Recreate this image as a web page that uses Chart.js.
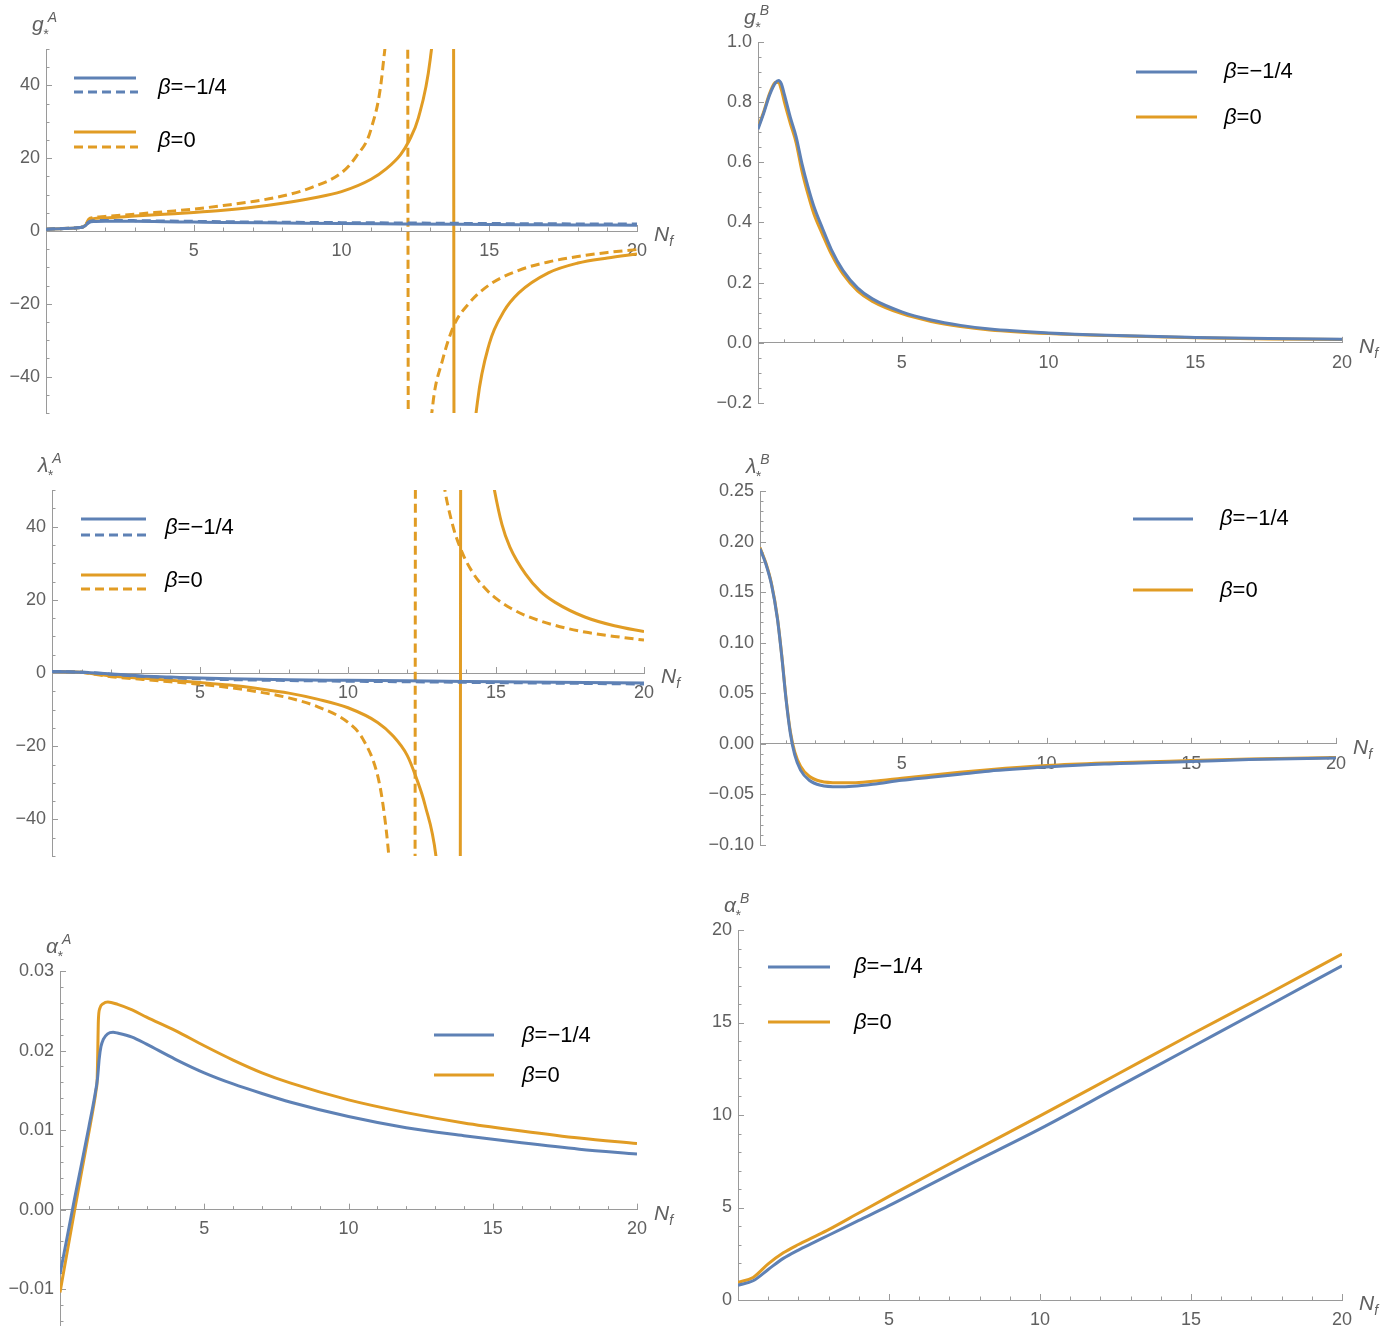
<!DOCTYPE html>
<html>
<head>
<meta charset="utf-8">
<script src="https://cdn.jsdelivr.net/npm/chart.js@4.4.0/dist/chart.umd.min.js"></script>
<style>
  html, body { margin: 0; padding: 0; background: #fff; overflow: hidden; }
  #pagina { position: relative; width: 1400px; height: 1329px; overflow: hidden; }
  .painel { position: absolute; }
</style>
</head>
<body>
<div id="pagina">
  <canvas class="painel" id="c1"></canvas>
  <canvas class="painel" id="c2"></canvas>
  <canvas class="painel" id="c3"></canvas>
  <canvas class="painel" id="c4"></canvas>
  <canvas class="painel" id="c5"></canvas>
  <canvas class="painel" id="c6"></canvas>
</div>
<script>
// ---------- g*^A ----------
const gA_xAzul = [0, 0.5, 1, 1.25, 1.35, 1.45, 1.6, 2, 3, 4, 5, 6, 8, 10, 12, 14, 16, 18, 20];
const gA_azulSolida = [0.5, 0.65, 0.85, 1.1, 1.6, 2.3, 2.6, 2.7, 2.65, 2.55, 2.45, 2.35, 2.2, 2.05, 1.95, 1.85, 1.75, 1.65, 1.6];
const gA_azulTracejada = [0.5, 0.65, 0.85, 1.1, 1.7, 2.5, 2.8, 2.9, 2.85, 2.75, 2.65, 2.55, 2.4, 2.3, 2.2, 2.1, 2.0, 1.95, 1.9];
const gA_xLaranjaSolida = [0, 0.5, 1, 1.25, 1.35, 1.45, 1.6, 2, 3, 4, 5, 6, 7, 8, 9, 10, 11, 11.5, 12, 12.3, 12.6, 13.0, 13.3, 13.55, 13.72, 13.88, 14.05, 14.3, 14.6, 15, 15.5, 16, 17, 18, 19, 20];
const gA_laranjaSolida = [0.5, 0.65, 0.85, 1.1, 1.7, 3.0, 3.4, 3.6, 4.1, 4.6, 5.1, 5.7, 6.5, 7.6, 9.0, 10.8, 14.2, 17, 21, 25, 31, 47, 75, 150, 450, -450, -150, -75, -47, -31, -22, -17, -11.5, -8.8, -7.4, -6.3];
const gA_xLaranjaTracejada = [0, 0.5, 1, 1.25, 1.35, 1.45, 1.6, 2, 3, 4, 5, 6, 7, 8, 9, 10, 10.5, 11, 11.4, 11.7, 11.95, 12.15, 12.35, 12.55, 12.8, 13.1, 13.4, 13.8, 14.3, 15, 16, 17, 18, 19, 20];
const gA_laranjaTracejada = [0.5, 0.65, 0.85, 1.1, 1.8, 3.3, 3.7, 4.0, 4.6, 5.3, 6.0, 7.0, 8.1, 9.6, 12.0, 16.0, 20.5, 28, 45, 80, 170, 420, -420, -140, -76, -47, -36, -26, -20, -14.8, -10.8, -8.5, -7.0, -5.9, -5.1];

// ---------- g*^B ----------
const gB_x = [0.1, 0.3, 0.5, 0.7, 0.8, 0.9, 1.0, 1.2, 1.4, 1.6, 1.8, 2.0, 2.3, 2.6, 3.0, 3.5, 4, 5, 6, 7, 8, 10, 12, 15, 17.5, 20];
const gB_azul = [0.71, 0.765, 0.825, 0.865, 0.872, 0.86, 0.825, 0.75, 0.685, 0.595, 0.52, 0.455, 0.38, 0.31, 0.24, 0.182, 0.146, 0.103, 0.076, 0.058, 0.046, 0.033, 0.025, 0.018, 0.014, 0.012];
const gB_laranja = [0.715, 0.77, 0.83, 0.866, 0.865, 0.84, 0.80, 0.73, 0.665, 0.57, 0.495, 0.43, 0.36, 0.295, 0.228, 0.172, 0.138, 0.097, 0.071, 0.054, 0.043, 0.031, 0.024, 0.017, 0.013, 0.011];

// ---------- lambda*^A ----------
const lA_xAzul = [0, 0.5, 1, 1.5, 2, 3, 4, 5, 6, 8, 10, 12, 14, 16, 18, 20];
const lA_azulSolida = [0.4, 0.35, 0.2, 0, -0.3, -0.8, -1.1, -1.4, -1.6, -1.85, -2.0, -2.15, -2.3, -2.45, -2.6, -2.75];
const lA_azulTracejada = [0.4, 0.35, 0.2, 0, -0.35, -0.9, -1.3, -1.6, -1.8, -2.05, -2.25, -2.4, -2.55, -2.7, -2.85, -3.0];
const lA_xLaranjaSolida = [0, 0.5, 1, 1.5, 2, 3, 4, 5, 6, 7, 8, 9, 10, 11, 11.5, 12, 12.3, 12.6, 13.0, 13.3, 13.55, 13.72, 13.88, 14.1, 14.4, 14.7, 14.9, 15.2, 15.47, 16, 16.5, 17, 18, 19, 20];
const lA_laranjaSolida = [0.4, 0.35, 0.2, -0.3, -0.8, -1.4, -2.0, -2.6, -3.3, -4.3, -5.5, -7.2, -9.5, -13.5, -17, -22.5, -28.5, -36, -52, -85, -170, -500, 500, 180, 91, 62, 52, 40.6, 34.4, 27, 22.3, 19.3, 15.3, 12.9, 11.3];
const lA_xLaranjaTracejada = [0, 0.5, 1, 1.5, 2, 3, 4, 5, 6, 7, 8, 9, 10, 10.5, 11, 11.2, 11.4, 11.7, 12.0, 12.18, 12.35, 12.5, 12.7, 12.95, 13.22, 13.5, 13.8, 14.2, 14.6, 15, 15.5, 16, 17, 18, 19, 20];
const lA_laranjaTracejada = [0.4, 0.35, 0.2, -0.4, -1.0, -1.7, -2.4, -3.1, -4.0, -5.2, -6.8, -9.3, -13.5, -18, -28, -37, -52, -90, -200, -600, 480, 196, 110, 72, 52.7, 41.5, 34, 27.6, 23.4, 20.4, 17.7, 15.7, 13, 11.2, 10, 9];

// ---------- lambda*^B ----------
const lB_x = [0.1, 0.3, 0.5, 0.7, 0.85, 1.0, 1.15, 1.3, 1.5, 1.8, 2.2, 2.8, 3.3, 4, 5, 6, 7, 8, 10, 12, 15, 17, 20];
const lB_azul = [0.193, 0.178, 0.157, 0.124, 0.087, 0.044, 0.010, -0.011, -0.026, -0.036, -0.041, -0.0425, -0.042, -0.040, -0.036, -0.033, -0.030, -0.027, -0.023, -0.020, -0.0175, -0.0155, -0.0140];
const lB_laranja = [0.194, 0.179, 0.158, 0.125, 0.088, 0.045, 0.012, -0.008, -0.022, -0.032, -0.037, -0.0385, -0.0385, -0.037, -0.034, -0.031, -0.028, -0.0255, -0.0215, -0.019, -0.0165, -0.015, -0.0135];

// ---------- alpha*^A ----------
const aA_xAzul = [0, 0.25, 0.5, 0.75, 1.0, 1.2, 1.3, 1.36, 1.42, 1.5, 1.65, 1.84, 2.0, 2.5, 3, 4, 5, 6, 7, 8, 10, 12, 14, 16, 18, 20];
const aA_azul = [-0.0081, -0.0034, 0.0013, 0.0058, 0.0104, 0.0142, 0.0165, 0.0190, 0.0205, 0.0214, 0.0221, 0.0223, 0.0222, 0.0217, 0.0208, 0.0189, 0.0172, 0.0158, 0.0146, 0.0135, 0.0117, 0.0103, 0.0093, 0.0084, 0.0076, 0.0070];
const aA_xLaranja = [0, 0.25, 0.5, 0.75, 1.0, 1.15, 1.25, 1.29, 1.31, 1.33, 1.38, 1.5, 1.66, 2.0, 2.5, 3, 4, 5, 6, 7, 8, 10, 12, 14, 16, 18, 20];
const aA_laranja = [-0.0104, -0.0053, -0.0002, 0.0048, 0.0097, 0.0127, 0.0150, 0.0165, 0.0200, 0.0238, 0.0253, 0.0259, 0.0261, 0.0258, 0.0251, 0.0242, 0.0225, 0.0206, 0.0188, 0.0172, 0.0159, 0.0138, 0.0122, 0.0109, 0.0099, 0.0090, 0.0083];

// ---------- alpha*^B ----------
const aB_x = [0, 0.5, 1, 1.5, 2, 2.5, 3, 4, 5, 7.5, 10, 12.5, 15, 17.5, 20];
const aB_azul = [0.8, 1.04, 1.65, 2.25, 2.7, 3.1, 3.5, 4.3, 5.1, 7.2, 9.25, 11.45, 13.65, 15.85, 18.07];
const aB_laranja = [0.95, 1.22, 1.95, 2.55, 3.0, 3.4, 3.8, 4.7, 5.6, 7.8, 9.95, 12.15, 14.35, 16.5, 18.7];

// ---------- marcas dos eixos ----------
const xTicks = [5, 10, 15, 20];
const xRotulos = ['5', '10', '15', '20'];
const ticksGrande = [-40, -20, 0, 20, 40];
const rotulosGrande = ['\u221240', '\u221220', '0', '20', '40'];
const gB_ticks = [-0.2, 0, 0.2, 0.4, 0.6, 0.8, 1.0];
const gB_rotulos = ['\u22120.2', '0.0', '0.2', '0.4', '0.6', '0.8', '1.0'];
const lB_ticks = [-0.10, -0.05, 0, 0.05, 0.10, 0.15, 0.20, 0.25];
const lB_rotulos = ['\u22120.10', '\u22120.05', '0.00', '0.05', '0.10', '0.15', '0.20', '0.25'];
const aA_ticks = [-0.01, 0, 0.01, 0.02, 0.03];
const aA_rotulos = ['\u22120.01', '0.00', '0.01', '0.02', '0.03'];
const aB_ticks = [0, 5, 10, 15, 20];
const aB_rotulos = ['0', '5', '10', '15', '20'];

const AZUL = '#5E81B5';
const LARANJA = '#E19C24';
const COR_EIXO = '#9a9a9a';
const COR_TEXTO = '#606060';
const FONTE = '"Liberation Sans", Arial, sans-serif';
const ESPESSURA = 3;

// margens do canvas em volta da área do gráfico
const ESQ = 80, TOPO = 48, DIR = 62, BAIXO = 34;

function serie(xs, ys) {
  return xs.map((x, i) => ({ x: x, y: ys[i] }));
}

function linha(label, xs, ys, cor, tracejada) {
  return {
    label: label,
    data: serie(xs, ys),
    borderColor: cor,
    backgroundColor: cor,
    borderWidth: ESPESSURA,
    borderDash: tracejada ? [9, 5] : [],
    pointRadius: 0,
    showLine: true,
    fill: false,
    cubicInterpolationMode: 'monotone'
  };
}

function desenharSimbolo(ctx, x, y, principal, sup, sub) {
  ctx.fillStyle = COR_TEXTO;
  ctx.textAlign = 'left';
  ctx.textBaseline = 'alphabetic';
  ctx.font = 'italic 21px ' + FONTE;
  ctx.fillText(principal, x, y);
  const w = ctx.measureText(principal).width;
  ctx.font = 'italic 14px ' + FONTE;
  if (sub) ctx.fillText(sub, x + w - 1, y + 8);
  if (sup) ctx.fillText(sup, x + w + 4, y - 9);
}

function desenharLegenda(ctx, itens) {
  itens.forEach(it => {
    ctx.save();
    ctx.strokeStyle = it.cor;
    ctx.lineWidth = ESPESSURA;
    ctx.beginPath();
    ctx.moveTo(it.x1, it.y1);
    ctx.lineTo(it.x2, it.y1);
    ctx.stroke();
    if (it.y2 !== undefined) {
      ctx.setLineDash([9, 5]);
      ctx.beginPath();
      ctx.moveTo(it.x1, it.y2);
      ctx.lineTo(it.x2 + 2, it.y2);
      ctx.stroke();
    }
    ctx.restore();
    ctx.fillStyle = '#000';
    ctx.textBaseline = 'middle';
    ctx.textAlign = 'left';
    ctx.font = 'italic 22px ' + FONTE;
    ctx.fillText('\u03B2', it.tx, it.ty);
    const w = ctx.measureText('\u03B2').width;
    ctx.font = '22px ' + FONTE;
    ctx.fillText('=' + it.valor, it.tx + w, it.ty);
  });
}

function criarPainel(p) {
  const canvas = document.getElementById(p.id);
  const left = p.area.left - ESQ;
  const top = p.area.top - TOPO;
  const width = p.area.right + DIR - left;
  const height = p.area.bottom + BAIXO - top;
  canvas.width = width;
  canvas.height = height;
  canvas.style.left = left + 'px';
  canvas.style.top = top + 'px';
  canvas.style.width = width + 'px';
  canvas.style.height = height + 'px';

  // converte coordenadas da página para o canvas
  const cx = v => v - left;
  const cy = v => v - top;

  const pluginEixos = {
    id: 'eixos_' + p.id,
    beforeDatasetsDraw(chart) {
      const ctx = chart.ctx;
      const sx = chart.scales.x, sy = chart.scales.y;
      const x0 = chart.chartArea.left;
      const y0 = sy.getPixelForValue(0);
      ctx.save();
      ctx.strokeStyle = COR_EIXO;
      ctx.lineWidth = 1;
      // marcas do eixo y, para dentro
      const iMin = Math.ceil(p.yMin / p.yMenor - 1e-6);
      const iMax = Math.floor(p.yMax / p.yMenor + 1e-6);
      for (let i = iMin; i <= iMax; i++) {
        const v = i * p.yMenor;
        const r = v / p.yMaior;
        const maior = Math.abs(r - Math.round(r)) < 1e-6;
        const py = Math.round(sy.getPixelForValue(v)) + 0.5;
        ctx.beginPath();
        ctx.moveTo(x0, py);
        ctx.lineTo(x0 + (maior ? 6 : 3.5), py);
        ctx.stroke();
      }
      // marcas do eixo x, para cima
      for (let i = Math.ceil(p.xMin); i <= p.xMax; i++) {
        if (i === 0) continue;
        const maior = i % 5 === 0;
        const px = Math.round(sx.getPixelForValue(i)) + 0.5;
        ctx.beginPath();
        ctx.moveTo(px, y0);
        ctx.lineTo(px, y0 - (maior ? 6 : 3.5));
        ctx.stroke();
      }
      ctx.restore();
    },
    afterDraw(chart) {
      const ctx = chart.ctx;
      const sy = chart.scales.y;
      const ca = chart.chartArea;
      const y0 = sy.getPixelForValue(0);
      ctx.save();
      // nome do eixo y
      desenharSimbolo(ctx, ca.left - 14, ca.top - 18, p.simbolo[0], p.simbolo[1], '*');
      // nome do eixo x
      ctx.fillStyle = COR_TEXTO;
      ctx.textBaseline = 'alphabetic';
      ctx.font = 'italic 21px ' + FONTE;
      ctx.fillText('N', ca.right + 17, y0 + 10);
      const w = ctx.measureText('N').width;
      ctx.font = 'italic 14px ' + FONTE;
      ctx.fillText('f', ca.right + 17 + w, y0 + 15);
      // legenda
      desenharLegenda(ctx, p.legenda.map(it => ({
        cor: it.cor,
        x1: cx(it.x1), x2: cx(it.x2),
        y1: cy(it.y1), y2: it.y2 === undefined ? undefined : cy(it.y2),
        tx: cx(it.tx), ty: cy(it.ty),
        valor: it.valor
      })));
      ctx.restore();
    }
  };

  return new Chart(canvas, {
    type: 'scatter',
    data: { datasets: p.datasets },
    options: {
      responsive: false,
      animation: false,
      events: [],
      layout: { padding: { left: 0, top: TOPO, right: DIR, bottom: BAIXO } },
      plugins: { legend: { display: false }, tooltip: { enabled: false } },
      scales: {
        x: {
          type: 'linear',
          min: p.xMin,
          max: p.xMax,
          position: { y: 0 },
          afterBuildTicks: s => { s.ticks = xTicks.map(v => ({ value: v })); },
          ticks: {
            autoSkip: false,
            maxRotation: 0,
            padding: 9,
            color: COR_TEXTO,
            font: { family: FONTE, size: 18 },
            callback: (v, i) => xRotulos[i]
          },
          grid: { drawOnChartArea: false, drawTicks: false, color: COR_EIXO },
          border: { display: true, color: COR_EIXO, width: 1 }
        },
        y: {
          type: 'linear',
          min: p.yMin,
          max: p.yMax,
          position: 'left',
          afterFit: s => { s.width = ESQ; },
          afterBuildTicks: s => { s.ticks = p.yTicks.map(v => ({ value: v })); },
          ticks: {
            autoSkip: false,
            padding: 6,
            color: COR_TEXTO,
            font: { family: FONTE, size: 18 },
            callback: (v, i) => p.yRotulos[i]
          },
          grid: { drawOnChartArea: false, drawTicks: false, color: COR_EIXO },
          border: { display: true, color: COR_EIXO, width: 1 }
        }
      }
    },
    plugins: [pluginEixos]
  });
}

const paineis = [
  {
    id: 'c1', area: { left: 46, top: 49, right: 637, bottom: 413 },
    xMin: 0, xMax: 20, yMin: -50, yMax: 50, yMaior: 20, yMenor: 5,
    yTicks: ticksGrande, yRotulos: rotulosGrande, simbolo: ['g', 'A'],
    datasets: [
      linha('\u03B2=-1/4', gA_xAzul, gA_azulSolida, AZUL, false),
      linha('\u03B2=-1/4', gA_xAzul, gA_azulTracejada, AZUL, true),
      linha('\u03B2=0', gA_xLaranjaSolida, gA_laranjaSolida, LARANJA, false),
      linha('\u03B2=0', gA_xLaranjaTracejada, gA_laranjaTracejada, LARANJA, true)
    ],
    legenda: [
      { cor: AZUL, x1: 74, x2: 136, y1: 78, y2: 92, tx: 158, ty: 88, valor: '\u22121/4' },
      { cor: LARANJA, x1: 74, x2: 136, y1: 132, y2: 147, tx: 158, ty: 141, valor: '0' }
    ]
  },
  {
    id: 'c2', area: { left: 758, top: 42, right: 1342, bottom: 403 },
    xMin: 0.1, xMax: 20, yMin: -0.2, yMax: 1.0, yMaior: 0.2, yMenor: 0.05,
    yTicks: gB_ticks, yRotulos: gB_rotulos, simbolo: ['g', 'B'],
    datasets: [
      linha('\u03B2=-1/4', gB_x, gB_azul, AZUL, false),
      linha('\u03B2=0', gB_x, gB_laranja, LARANJA, false)
    ],
    legenda: [
      { cor: AZUL, x1: 1136, x2: 1197, y1: 72, tx: 1224, ty: 72, valor: '\u22121/4' },
      { cor: LARANJA, x1: 1136, x2: 1197, y1: 117, tx: 1224, ty: 118, valor: '0' }
    ]
  },
  {
    id: 'c3', area: { left: 52, top: 490, right: 644, bottom: 856 },
    xMin: 0, xMax: 20, yMin: -50, yMax: 50, yMaior: 20, yMenor: 5,
    yTicks: ticksGrande, yRotulos: rotulosGrande, simbolo: ['\u03BB', 'A'],
    datasets: [
      linha('\u03B2=-1/4', lA_xAzul, lA_azulSolida, AZUL, false),
      linha('\u03B2=-1/4', lA_xAzul, lA_azulTracejada, AZUL, true),
      linha('\u03B2=0', lA_xLaranjaSolida, lA_laranjaSolida, LARANJA, false),
      linha('\u03B2=0', lA_xLaranjaTracejada, lA_laranjaTracejada, LARANJA, true)
    ],
    legenda: [
      { cor: AZUL, x1: 81, x2: 146, y1: 519, y2: 535, tx: 165, ty: 528, valor: '\u22121/4' },
      { cor: LARANJA, x1: 81, x2: 146, y1: 575, y2: 589, tx: 165, ty: 581, valor: '0' }
    ]
  },
  {
    id: 'c4', area: { left: 760, top: 491, right: 1336, bottom: 845 },
    xMin: 0.1, xMax: 20, yMin: -0.10, yMax: 0.25, yMaior: 0.05, yMenor: 0.01,
    yTicks: lB_ticks, yRotulos: lB_rotulos, simbolo: ['\u03BB', 'B'],
    datasets: [
      linha('\u03B2=-1/4', lB_x, lB_azul, AZUL, false),
      linha('\u03B2=0', lB_x, lB_laranja, LARANJA, false)
    ],
    legenda: [
      { cor: AZUL, x1: 1133, x2: 1193, y1: 519, tx: 1220, ty: 519, valor: '\u22121/4' },
      { cor: LARANJA, x1: 1133, x2: 1193, y1: 590, tx: 1220, ty: 591, valor: '0' }
    ]
  },
  {
    id: 'c5', area: { left: 60, top: 971, right: 637, bottom: 1325 },
    xMin: 0, xMax: 20, yMin: -0.0145, yMax: 0.03, yMaior: 0.01, yMenor: 0.002,
    yTicks: aA_ticks, yRotulos: aA_rotulos, simbolo: ['\u03B1', 'A'],
    datasets: [
      linha('\u03B2=-1/4', aA_xAzul, aA_azul, AZUL, false),
      linha('\u03B2=0', aA_xLaranja, aA_laranja, LARANJA, false)
    ],
    legenda: [
      { cor: AZUL, x1: 434, x2: 494, y1: 1035, tx: 522, ty: 1036, valor: '\u22121/4' },
      { cor: LARANJA, x1: 434, x2: 494, y1: 1075, tx: 522, ty: 1076, valor: '0' }
    ]
  },
  {
    id: 'c6', area: { left: 738, top: 930, right: 1342, bottom: 1300 },
    xMin: 0, xMax: 20, yMin: 0, yMax: 20, yMaior: 5, yMenor: 1,
    yTicks: aB_ticks, yRotulos: aB_rotulos, simbolo: ['\u03B1', 'B'],
    datasets: [
      linha('\u03B2=-1/4', aB_x, aB_azul, AZUL, false),
      linha('\u03B2=0', aB_x, aB_laranja, LARANJA, false)
    ],
    legenda: [
      { cor: AZUL, x1: 768, x2: 830, y1: 967, tx: 854, ty: 967, valor: '\u22121/4' },
      { cor: LARANJA, x1: 768, x2: 830, y1: 1022, tx: 854, ty: 1023, valor: '0' }
    ]
  }
];

paineis.forEach(p => criarPainel(p));
</script>
</body>
</html>
